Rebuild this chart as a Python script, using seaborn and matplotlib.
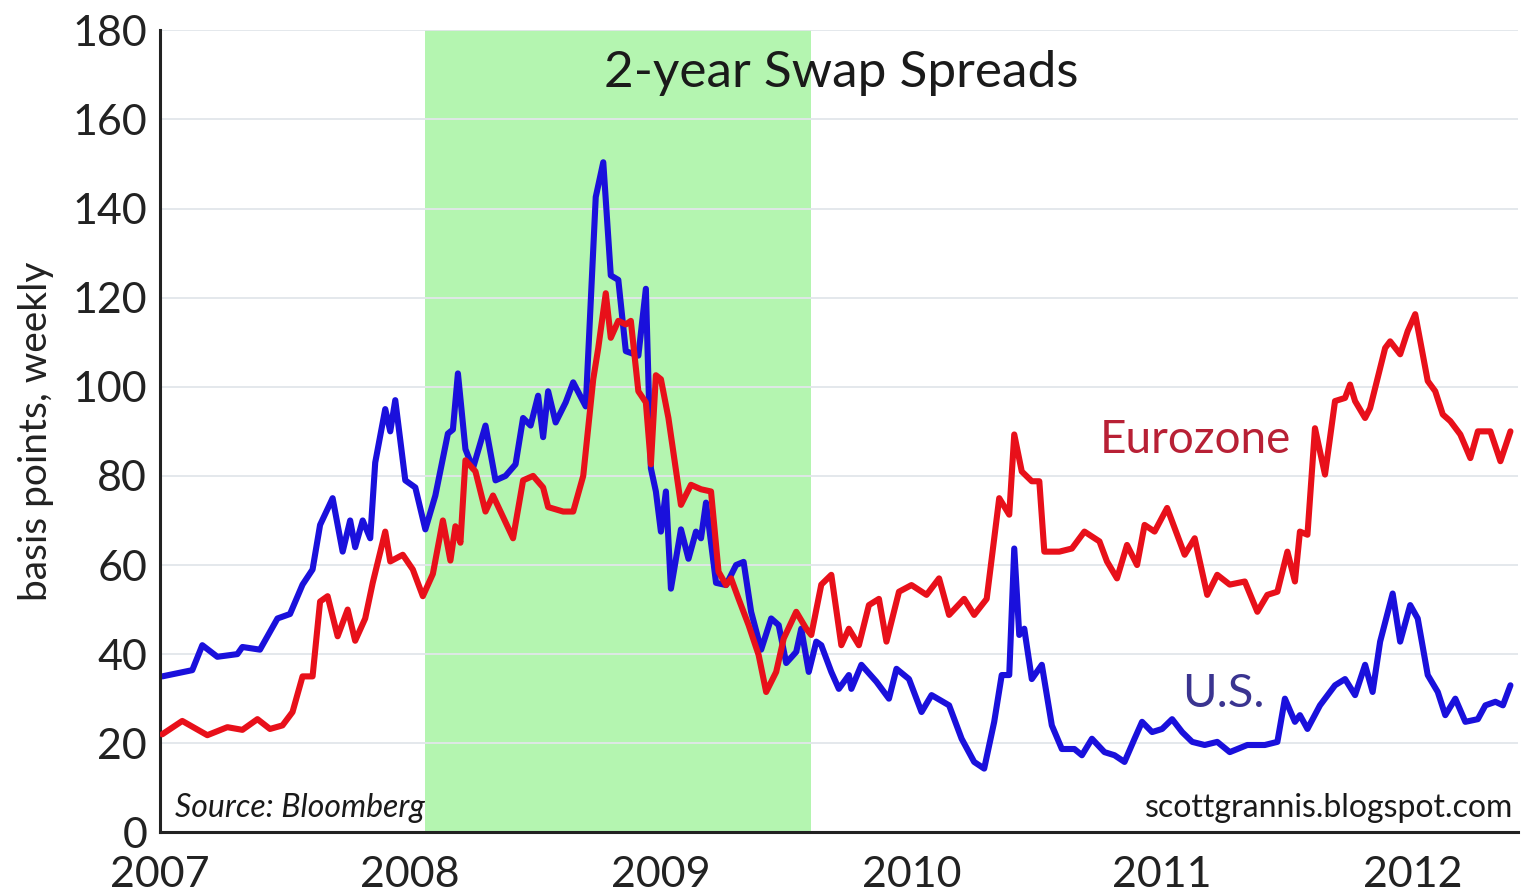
import pandas as pd
import matplotlib
matplotlib.use("Agg")
import matplotlib.pyplot as plt
import seaborn as sns

# weekly spreads (decimal year, basis points)
us_years = [2007.01, 2007.13, 2007.17, 2007.23, 2007.31, 2007.33, 2007.40, 2007.47, 2007.52, 2007.57,
            2007.61, 2007.64, 2007.69, 2007.73, 2007.76, 2007.78, 2007.81, 2007.84, 2007.86, 2007.90,
            2007.92, 2007.94, 2007.98, 2008.02, 2008.06, 2008.10, 2008.15, 2008.17, 2008.19, 2008.22,
            2008.25, 2008.30, 2008.34, 2008.38, 2008.42, 2008.45, 2008.48, 2008.51, 2008.53, 2008.55,
            2008.58, 2008.62, 2008.65, 2008.70, 2008.74, 2008.77, 2008.80, 2008.83, 2008.86, 2008.91,
            2008.94, 2008.96, 2008.98, 2009.00, 2009.02, 2009.04, 2009.08, 2009.11, 2009.14, 2009.16,
            2009.18, 2009.22, 2009.26, 2009.30, 2009.33, 2009.36, 2009.40, 2009.44, 2009.47, 2009.50,
            2009.54, 2009.56, 2009.59, 2009.62, 2009.64, 2009.68, 2009.71, 2009.75, 2009.76, 2009.80,
            2009.86, 2009.91, 2009.94, 2009.99, 2010.04, 2010.08, 2010.15, 2010.20, 2010.25, 2010.29,
            2010.33, 2010.36, 2010.39, 2010.41, 2010.43, 2010.45, 2010.48, 2010.52, 2010.56, 2010.60,
            2010.65, 2010.68, 2010.72, 2010.77, 2010.81, 2010.85, 2010.89, 2010.92, 2010.96, 2011.00,
            2011.04, 2011.08, 2011.12, 2011.17, 2011.22, 2011.27, 2011.34, 2011.41, 2011.46, 2011.49,
            2011.53, 2011.55, 2011.58, 2011.63, 2011.69, 2011.73, 2011.77, 2011.81, 2011.84, 2011.87,
            2011.92, 2011.95, 2011.99, 2012.02, 2012.06, 2012.10, 2012.13, 2012.17, 2012.21, 2012.26,
            2012.29, 2012.33, 2012.36, 2012.39]
us_bp = [35, 36.4, 42, 39.4, 40, 41.6, 41, 48, 49, 55.6,
         59, 69, 75, 63, 70, 64, 70, 66, 83, 95,
         90, 97, 79, 77.4, 68, 75.6, 89.5, 90.4, 103, 86,
         81.7, 91.3, 79, 80, 82.6, 93, 91.3, 98, 88.7, 99,
         92, 96.5, 101, 95.6, 142.6, 150.4, 125, 124, 108, 107,
         122, 81.7, 76.5, 67.5, 76.5, 54.7, 68, 61.4, 67.5, 66,
         74, 56, 55.5, 60, 60.7, 49.5, 41, 48, 46.5, 38,
         40.5, 45.7, 36, 42.8, 42, 36, 32.2, 35.3, 32.2, 37.6,
         33.8, 30, 36.7, 34.4, 27, 30.8, 28.5, 21, 15.8, 14.3,
         24.8, 35.3, 35.3, 63.7, 44.3, 45.7, 34.4, 37.6, 24, 18.7,
         18.7, 17.3, 21, 18, 17.3, 15.8, 21, 24.8, 22.5, 23.2,
         25.4, 22.5, 20.3, 19.6, 20.3, 18, 19.6, 19.6, 20.3, 30,
         24.8, 26.3, 23.2, 28.5, 33, 34.4, 30.8, 37.6, 31.5, 42.8,
         53.6, 42.8, 51, 48, 35.3, 31.5, 26.3, 30, 24.8, 25.4,
         28.5, 29.3, 28.5, 33]

ez_years = [2007.01, 2007.09, 2007.19, 2007.27, 2007.33, 2007.39, 2007.44, 2007.49, 2007.53, 2007.57,
            2007.61, 2007.64, 2007.67, 2007.71, 2007.75, 2007.78, 2007.82, 2007.85, 2007.90, 2007.92,
            2007.97, 2008.01, 2008.05, 2008.09, 2008.13, 2008.16, 2008.18, 2008.20, 2008.22, 2008.26,
            2008.30, 2008.33, 2008.41, 2008.45, 2008.49, 2008.53, 2008.55, 2008.61, 2008.65, 2008.69,
            2008.73, 2008.75, 2008.78, 2008.80, 2008.83, 2008.86, 2008.88, 2008.91, 2008.94, 2008.96,
            2008.98, 2009.00, 2009.03, 2009.08, 2009.12, 2009.16, 2009.20, 2009.23, 2009.26, 2009.28,
            2009.31, 2009.35, 2009.39, 2009.42, 2009.46, 2009.49, 2009.54, 2009.58, 2009.60, 2009.64,
            2009.68, 2009.72, 2009.75, 2009.79, 2009.83, 2009.87, 2009.90, 2009.95, 2010.00, 2010.06,
            2010.11, 2010.15, 2010.21, 2010.25, 2010.30, 2010.35, 2010.39, 2010.41, 2010.44, 2010.48,
            2010.51, 2010.53, 2010.59, 2010.64, 2010.69, 2010.75, 2010.78, 2010.82, 2010.86, 2010.90,
            2010.93, 2010.97, 2011.02, 2011.09, 2011.13, 2011.18, 2011.22, 2011.27, 2011.33, 2011.38,
            2011.42, 2011.46, 2011.50, 2011.53, 2011.55, 2011.58, 2011.61, 2011.65, 2011.69, 2011.73,
            2011.75, 2011.77, 2011.81, 2011.83, 2011.89, 2011.91, 2011.95, 2011.98, 2012.01, 2012.06,
            2012.09, 2012.12, 2012.15, 2012.19, 2012.23, 2012.26, 2012.31, 2012.35, 2012.39]
ez_bp = [22, 25, 21.8, 23.6, 23, 25.4, 23.2, 24, 27, 35,
         35, 51.8, 53, 44, 50, 43, 48, 56, 67.5, 60.8,
         62.3, 59, 53, 58, 70, 61, 68.7, 65, 83.5, 81,
         72, 75.6, 66, 79, 80, 77.4, 73, 72, 72, 80,
         101.7, 108.7, 121, 111, 114.8, 114, 114.8, 99, 96.5, 82.6,
         102.6, 101.7, 93, 73.5, 78, 77, 76.5, 58.5, 55.5, 57,
         52.4, 46.5, 39.8, 31.5, 36, 43.5, 49.5, 45.7, 44.3, 55.6,
         57.8, 42, 45.7, 42, 51, 52.4, 42.8, 54, 55.5, 53.3,
         57, 48.8, 52.4, 48.8, 52.4, 75, 71.3, 89.3, 81, 78.8,
         78.8, 63, 63, 63.7, 67.5, 65.3, 60.8, 57, 64.5, 60,
         69, 67.5, 72.8, 62.3, 66, 53.3, 57.8, 55.6, 56.3, 49.5,
         53.3, 54, 63, 56.3, 67.5, 66.8, 90.7, 80.3, 96.8, 97.5,
         100.5, 96.8, 93, 95.2, 108.7, 110.2, 107.3, 112.5, 116.3, 101.3,
         99, 93.8, 92.3, 89.3, 84, 90, 90, 83.3, 90]

recession = (2008.06, 2009.60)
year_ticks = [2007, 2008, 2009, 2010, 2011, 2012]
bp_ticks = list(range(0, 181, 20))

us = pd.DataFrame({"year": us_years, "bp": us_bp})
ez = pd.DataFrame({"year": ez_years, "bp": ez_bp})

sns.set_style("white")
plt.rcParams["font.family"] = ["Lato", "DejaVu Sans"]

fig = plt.figure(figsize=(15.21, 8.94), dpi=100)
ax = fig.add_axes([0.105, 0.069, 0.893, 0.897])

ax.axvspan(recession[0], recession[1], color="#b4f5b0", zorder=0, lw=0)
for t in bp_ticks[1:]:
    ax.axhline(t, color="#e2e6ea", lw=1.3, zorder=0.5)

sns.lineplot(data=ez, x="year", y="bp", ax=ax, color="#e8101a", lw=4.4, zorder=3)
sns.lineplot(data=us, x="year", y="bp", ax=ax, color="#1a10dc", lw=4.4, zorder=2)

ax.set_xlim(2007, 2012.42)
ax.set_ylim(0, 180)
ax.set_xticks(year_ticks)
ax.set_yticks(bp_ticks)
ax.tick_params(axis="both", labelsize=31, length=7, width=1.2, direction="out",
               colors="#222222")
ax.tick_params(axis="y", pad=2)
ax.tick_params(axis="x", pad=10)
ax.set_xlabel("")
ax.set_ylabel("basis points, weekly", fontsize=28, labelpad=12, color="#222222")
ax.yaxis.set_label_coords(-0.078, 0.5)

for side in ["top", "right"]:
    ax.spines[side].set_visible(False)
ax.spines["left"].set_color("#222222")
ax.spines["bottom"].set_color("#222222")
ax.spines["left"].set_linewidth(2.2)
ax.spines["bottom"].set_linewidth(2.2)

ax.text(2009.72, 170.5, "2-year Swap Spreads", fontsize=37, ha="center", va="center",
        color="#1a1a1a")
ax.text(2010.75, 88, "Eurozone", fontsize=33, ha="left", va="center", color="#b82035")
ax.text(2011.08, 31, "U.S.", fontsize=34, ha="left", va="center", color="#3a3490")
ax.text(2007.06, 5.5, "Source: Bloomberg", fontsize=23, style="italic", ha="left",
        va="center", color="#1a1a1a")
ax.text(2012.4, 5.5, "scottgrannis.blogspot.com", fontsize=23, ha="right", va="center",
        color="#1a1a1a")

fig.savefig("out.png", dpi=100)
